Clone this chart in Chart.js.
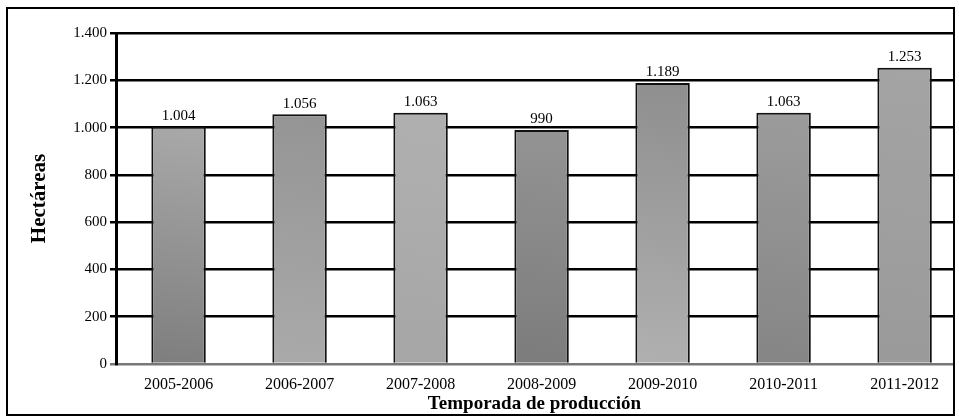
<!DOCTYPE html>
<html>
<head>
<meta charset="utf-8">
<script src="https://cdn.jsdelivr.net/npm/chart.js@4"></script>
<style>
  html, body { margin: 0; padding: 0; background: #fff; }
  #wrap { width: 959px; height: 420px; position: relative; }
</style>
</head>
<body>
<div id="wrap"><canvas id="chart" width="959" height="420"></canvas></div>
<script>
const seasons = ['2005-2006', '2006-2007', '2007-2008', '2008-2009', '2009-2010', '2010-2011', '2011-2012'];
const hectares = [1004, 1056, 1063, 990, 1189, 1063, 1253];
const yTicks = [0, 200, 400, 600, 800, 1000, 1200, 1400];

// tonos de gris de cada barra (arriba, abajo)
const shades = [
  ['#b4b4b4', '#7e7e7e'],
  ['#909090', '#aaaaaa'],
  ['#b2b2b2', '#a6a6a6'],
  ['#9a9a9a', '#7c7c7c'],
  ['#8c8c8c', '#b0b0b0'],
  ['#a0a0a0', '#858585'],
  ['#a4a4a4', '#9a9a9a']
];

const serif = "'Liberation Serif', 'DejaVu Serif', serif";

function fmt(v) {
  return String(v).replace(/\B(?=(\d{3})+(?!\d))/g, '.');
}

const valueLabels = {
  id: 'valueLabels',
  afterDatasetsDraw(chart) {
    const ctx = chart.ctx;
    const meta = chart.getDatasetMeta(0);
    ctx.save();
    ctx.fillStyle = '#000';
    ctx.font = '15px ' + serif;
    ctx.textAlign = 'center';
    ctx.textBaseline = 'bottom';
    meta.data.forEach((bar, i) => {
      ctx.fillText(fmt(hectares[i]), bar.x, bar.y - 3);
    });
    ctx.restore();
  }
};

const frame = {
  id: 'frame',
  afterDraw(chart) {
    const ctx = chart.ctx;
    ctx.save();
    ctx.strokeStyle = '#000';
    ctx.lineWidth = 2;
    ctx.strokeRect(7, 8, 947, 407);
    ctx.restore();
  }
};

const ctx = document.getElementById('chart').getContext('2d');
new Chart(ctx, {
  type: 'bar',
  data: {
    datasets: [{
      label: 'Hectáreas',
      data: hectares.map((v, i) => ({ x: i, y: v })),
      backgroundColor: (c) => {
        const chart = c.chart;
        const sh = shades[c.dataIndex] || shades[0];
        if (!chart.chartArea || !chart.scales.x) return sh[0];
        const cx = chart.scales.x.getPixelForValue(c.dataIndex);
        const area = chart.chartArea;
        const g = chart.ctx.createLinearGradient(cx + 20, area.top + 30, cx - 20, area.bottom);
        g.addColorStop(0, sh[0]);
        g.addColorStop(1, sh[1]);
        return g;
      },
      borderColor: '#111',
      borderWidth: 2,
      borderSkipped: 'bottom',
      barPercentage: 0.45,
      categoryPercentage: 1
    }]
  },
  options: {
    responsive: false,
    animation: false,
    layout: { padding: { top: 33, right: 6, left: 0, bottom: 0 } },
    plugins: {
      legend: { display: false },
      tooltip: { enabled: false }
    },
    scales: {
      x: {
        type: 'linear',
        offset: false,
        min: -0.517,
        max: 6.4,
        afterFit: (scale) => { scale.height = 56; },
        grid: { display: false },
        border: { display: true, color: '#777', width: 2 },
        ticks: {
          stepSize: 1,
          includeBounds: false,
          autoSkip: false,
          maxRotation: 0,
          padding: 3,
          color: '#000',
          font: { family: serif, size: 16 },
          callback: (v) => seasons[v]
        },
        title: {
          display: true,
          text: 'Temporada de producción',
          color: '#000',
          font: { family: serif, size: 19, weight: 'bold' },
          padding: { top: 0, bottom: 5 }
        }
      },
      y: {
        min: 0,
        max: 1400,
        afterFit: (scale) => { scale.width = 116; },
        afterBuildTicks: (scale) => { scale.ticks = yTicks.map(v => ({ value: v })); },
        grid: {
          color: (c) => c.tick && c.tick.value === 0 ? '#777' : '#000',
          lineWidth: 2.5,
          tickLength: 6,
          drawTicks: true
        },
        border: { display: true, color: '#000', width: 3 },
        ticks: {
          padding: 3,
          color: '#000',
          font: { family: serif, size: 15 },
          callback: (v) => fmt(v)
        },
        title: {
          display: true,
          text: 'Hectáreas',
          color: '#000',
          font: { family: serif, size: 21, weight: 'bold' },
          padding: { top: 27, bottom: 0 }
        }
      }
    }
  },
  plugins: [valueLabels, frame]
});
</script>
</body>
</html>
